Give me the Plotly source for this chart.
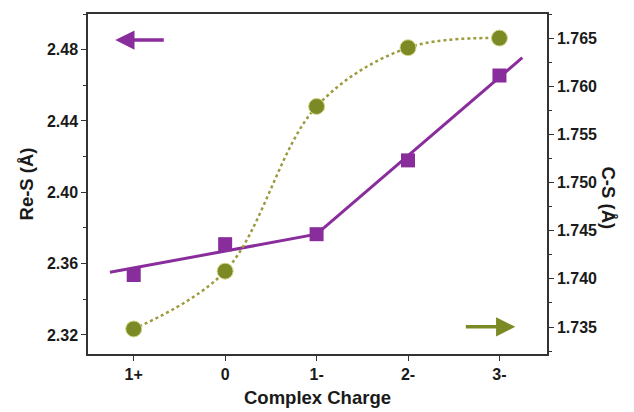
import plotly.graph_objects as go

charges = ["1+", "0", "1-", "2-", "3-"]
positions = [0, 1, 2, 3, 4]
re_s = [2.3536, 2.3709, 2.3765, 2.4179, 2.4655]
c_s = [1.7348, 1.7408, 1.7579, 1.7640, 1.7650]
fit_positions = [-0.26, 2, 4.25]
fit_re_s = [2.3551, 2.3765, 2.4755]
re_s_ticks = [2.32, 2.36, 2.40, 2.44, 2.48]
c_s_ticks = [1.735, 1.740, 1.745, 1.750, 1.755, 1.760, 1.765]

purple = "#8a2d9c"
green = "#7b8a25"
dotted = "#9c9a3c"
font = "Liberation Sans, Arial, sans-serif"
ink = "#1a1a1a"

fig = go.Figure()
fig.add_trace(go.Scatter(x=fit_positions, y=fit_re_s, mode="lines",
                         line=dict(color=purple, width=3), yaxis="y", showlegend=False))
fig.add_trace(go.Scatter(x=positions, y=re_s, mode="markers",
                         marker=dict(symbol="square", size=14, color=purple), yaxis="y", showlegend=False))
fig.add_trace(go.Scatter(x=positions, y=c_s, mode="lines", line_shape="spline",
                         line=dict(color=dotted, width=2.5, dash="dot", smoothing=1.0),
                         yaxis="y2", showlegend=False))
fig.add_trace(go.Scatter(x=positions, y=c_s, mode="markers",
                         marker=dict(symbol="circle", size=16, color=green, line=dict(color="#d6d68a", width=1)),
                         yaxis="y2", showlegend=False))

tickfont = dict(family=font, size=16, color=ink, weight="bold")
titlefont = dict(family=font, size=18.5, color=ink, weight="bold")
axcommon = dict(showline=True, linecolor="#333", linewidth=1.5, ticks="outside", ticklen=5,
                tickwidth=1.2, tickcolor="#333", showgrid=False, zeroline=False,
                tickfont=tickfont, automargin=False)

fig.update_layout(
    width=634, height=412,
    margin=dict(l=88, r=87, t=14, b=58),
    paper_bgcolor="white", plot_bgcolor="white",
    xaxis=dict(range=[-0.5, 4.52], tickvals=positions, ticktext=[f"<b>{c}</b>" for c in charges],
               mirror=True,
               title=dict(text="<b>Complex Charge</b>", standoff=9, font=titlefont),
               **axcommon),
    yaxis=dict(range=[2.3093, 2.500], tickvals=re_s_ticks,
               ticktext=[f"<b>{v:.2f}</b>" for v in re_s_ticks],
               minor=dict(ticks="outside", ticklen=3, dtick=0.02, tickcolor="#333"),
               title=dict(text="<b>Re-S (Å)</b>", standoff=8, font=titlefont),
               **axcommon),
    yaxis2=dict(range=[1.7322, 1.7675], overlaying="y", side="right", tickvals=c_s_ticks,
                ticktext=[f"<b>{v:.3f}</b>" for v in c_s_ticks],
                minor=dict(ticks="outside", ticklen=3, dtick=0.0025, tickcolor="#333"),
                **axcommon),
    annotations=[
        dict(x=0.0594, y=0.9235, xref="paper", yref="paper", ax=50, ay=0, text="",
             showarrow=True, arrowhead=2, arrowsize=1.1, arrowwidth=3.5, arrowcolor=purple),
        dict(x=0.931, y=0.080, xref="paper", yref="paper", ax=-51, ay=0, text="",
             showarrow=True, arrowhead=2, arrowsize=1.1, arrowwidth=3.5, arrowcolor=green),
        dict(x=1.16, y=0.46, xref="paper", yref="paper", text="<b>C-S (Å)</b>", textangle=90,
             showarrow=False, font=titlefont),
    ],
)
pl, pr, pt, pb = 88, 634 - 87, 14, 412 - 58
fig.layout.annotations[2].x = (621 - pl) / (pr - pl)
fig.layout.annotations[2].y = (pb - 198) / (pb - pt)
fig.write_html("out.html")
